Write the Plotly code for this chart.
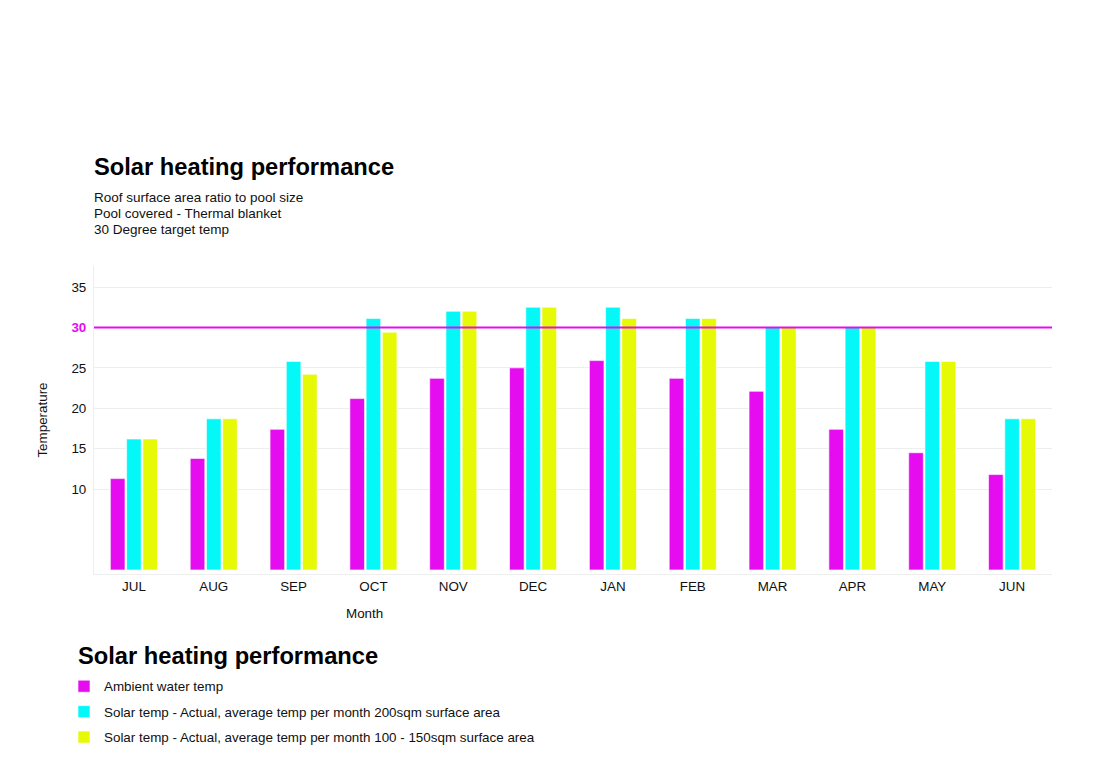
import plotly.graph_objects as go

months = ["JUL", "AUG", "SEP", "OCT", "NOV", "DEC", "JAN", "FEB", "MAR", "APR", "MAY", "JUN"]
ambient = [11.3, 13.8, 17.4, 21.2, 23.7, 25.0, 25.9, 23.7, 22.1, 17.4, 14.5, 11.8]
solar_200 = [16.2, 18.7, 25.8, 31.1, 32.0, 32.5, 32.5, 31.1, 30.0, 30.0, 25.8, 18.7]
solar_100_150 = [16.2, 18.7, 24.2, 29.4, 32.0, 32.5, 31.1, 31.1, 30.0, 30.0, 25.8, 18.7]
target_temp = 30

series_names = [
    "Ambient water temp",
    "Solar temp - Actual, average temp per month 200sqm surface area",
    "Solar temp - Actual, average temp per month 100 - 150sqm surface area",
]
colors = ["#e60cf0", "#05f8f8", "#e6f905"]
y_ticks = [10, 15, 20, 25, 30, 35]
subtitle_lines = ["Roof surface area ratio to pool size", "Pool covered - Thermal blanket", "30 Degree target temp"]

FONT = "Liberation Sans, Arial, Helvetica, sans-serif"

# plot area on screen: x 94..1052, y 266..574 (page has an 8px body offset)
PX0, PY0, PW, PH = 94, 574, 958, 308


def px(x):
    return (x - PX0) / PW


def py(y):
    return (PY0 - y) / PH


fig = go.Figure()
for i, (name, vals) in enumerate(zip(series_names, [ambient, solar_200, solar_100_150])):
    fig.add_trace(go.Bar(
        x=months, y=vals, name=name,
        marker=dict(color=colors[i], line=dict(color="rgba(255,255,255,0.6)", width=1)),
        legendgroup=f"g{i}",
    ))

fig.add_hline(y=target_temp, line=dict(color="#e60cf0", width=2), layer="above")

tick_text = [f"<span style='color:#e60cf0'><b>{t}</b></span>" if t == target_temp else str(t) for t in y_ticks]

annotations = [
    dict(text="<b>Solar heating performance</b>", xref="paper", yref="paper",
         x=px(92), y=py(167), xanchor="left", yanchor="middle",
         showarrow=False, font=dict(size=23.7, color="#000")),
    dict(text="<b>Solar heating performance</b>", xref="paper", yref="paper",
         x=px(76), y=py(656), xanchor="left", yanchor="middle",
         showarrow=False, font=dict(size=23.7, color="#000")),
    dict(text="Month", xref="paper", yref="paper", x=px(364), y=py(613),
         xanchor="center", yanchor="middle", showarrow=False, font=dict(size=13.4, color="#111")),
]
for k, line in enumerate(subtitle_lines):
    annotations.append(dict(text=line, xref="paper", yref="paper", x=px(92), y=py(197 + 16 * k),
                            xanchor="left", yanchor="middle", showarrow=False,
                            font=dict(size=13.5, color="#111")))

fig.update_layout(
    width=1100, height=780,
    margin=dict(l=86, r=56, t=258, b=214),
    paper_bgcolor="white", plot_bgcolor="white",
    font=dict(family=FONT, size=13.4, color="#111"),
    barmode="group", bargap=0.39, bargroupgap=0.1,
    showlegend=True,
    legend=dict(
        x=px(64), xanchor="left", y=py(671), yanchor="top",
        font=dict(size=13.4, color="#111"),
        tracegroupgap=5,
        bgcolor="rgba(0,0,0,0)",
    ),
    xaxis=dict(
        showgrid=False, showline=True, linecolor="#eeeeee", linewidth=1,
        ticks="", tickfont=dict(size=13.4, color="#111"),
    ),
    yaxis=dict(
        range=[-0.5, 37.6], tickvals=y_ticks, ticktext=tick_text,
        showgrid=True, gridcolor="#eeeeee", gridwidth=1,
        showline=True, linecolor="#eeeeee", linewidth=1,
        zeroline=False, ticks="", ticklabelstandoff=4,
        tickfont=dict(size=13.4, color="#111"),
        title=dict(text="Temperature", font=dict(size=13.4, color="#111"), standoff=20),
    ),
    annotations=annotations,
)

fig.write_html("out.html")
